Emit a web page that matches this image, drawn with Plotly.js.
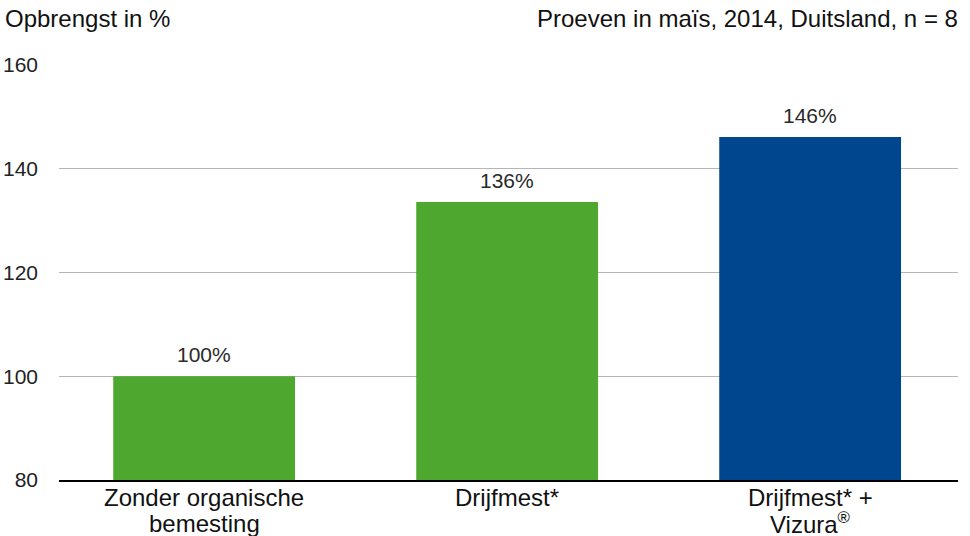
<!DOCTYPE html>
<html>
<head>
<meta charset="utf-8">
<script src="https://cdn.plot.ly/plotly-3.0.1.min.js"></script>
<style>html,body{margin:0;padding:0;background:#fff;}#chart{width:970px;height:536px;}</style>
</head>
<body>
<div id="chart"></div>
<script>
const categories = ["Zonder organische<br>bemesting", "Drijfmest*", "Drijfmest* +<br>Vizura<sup>®</sup>"];
const values = [100, 133.6, 146.1];
const valueLabels = ["100%", "136%", "146%"];
const barColors = ["#4ea82f", "#4ea82f", "#00468f"];
const yTicks = [80, 100, 120, 140, 160];

const font = "Liberation Sans, Arial, Helvetica, sans-serif";

const trace = {
  type: "bar",
  x: [0, 1, 2],
  y: values,
  base: 0,
  width: 0.6,
  marker: {color: barColors, line: {width: 0}},
  hoverinfo: "none"
};

const annotations = values.map((v, i) => ({
  x: i, y: v, xref: "x", yref: "y",
  text: valueLabels[i], showarrow: false,
  yanchor: "bottom", yshift: 8,
  font: {family: font, size: 21, color: "#2a2a2a"}
}));
// category labels, one annotation per line for tight line spacing
categories.forEach((c, i) => {
  c.split("<br>").forEach((line, k) => {
    annotations.push({
      x: i, y: 80, xref: "x", yref: "y",
      text: line, showarrow: false,
      yanchor: "middle", yshift: -17 - k * 26,
      font: {family: font, size: 24, color: "#111"}
    });
  });
});
annotations.push({
  xref: "paper", yref: "paper", x: 0, y: 1, xshift: -56, yshift: 47,
  xanchor: "left", yanchor: "middle", showarrow: false,
  text: "Opbrengst in %", font: {family: font, size: 24, color: "#111"}
});
annotations.push({
  xref: "paper", yref: "paper", x: 1, y: 1, xshift: 2, yshift: 47,
  xanchor: "right", yanchor: "middle", showarrow: false,
  text: "Proeven in maïs, 2014, Duitsland, n = 8", font: {family: font, size: 24, color: "#111"}
});

const layout = {
  width: 970, height: 536,
  margin: {l: 59, r: 12, t: 65, b: 56},
  paper_bgcolor: "#fff", plot_bgcolor: "#fff",
  showlegend: false,
  xaxis: {
    range: [-0.479, 2.488],
    showticklabels: false,
    showgrid: false, zeroline: false,
    showline: true, linecolor: "#000", linewidth: 1.5,
    ticks: "",
    fixedrange: true
  },
  yaxis: {
    range: [80, 160],
    tickmode: "array", tickvals: yTicks, ticktext: yTicks.map(String),
    showgrid: true, gridcolor: "#b5b5b5", gridwidth: 1,
    zeroline: false, showline: false, ticks: "",
    ticklabelstandoff: 20,
    tickfont: {family: font, size: 21, color: "#222"},
    fixedrange: true
  },
  annotations: annotations
};

Plotly.newPlot("chart", [trace], layout, {displayModeBar: false, staticPlot: true});
</script>
</body>
</html>
